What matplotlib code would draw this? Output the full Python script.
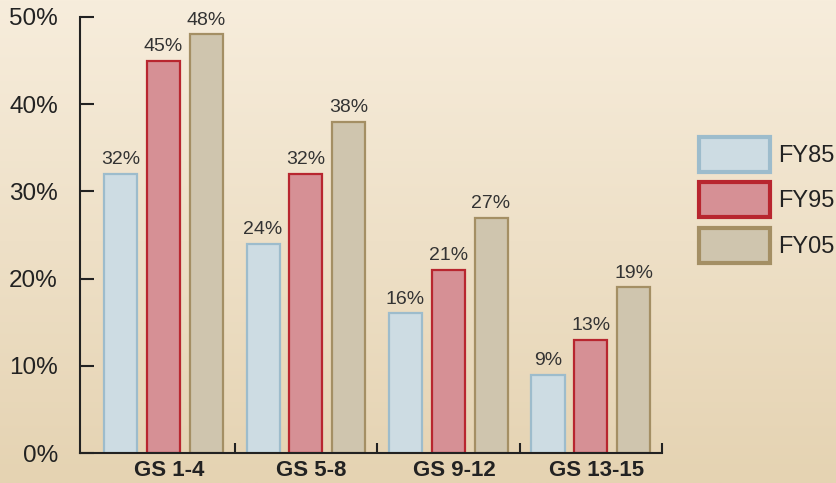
import numpy as np
import matplotlib
matplotlib.use("Agg")
import matplotlib.pyplot as plt
from matplotlib.patches import Patch

plt.rcParams["font.family"] = ["Liberation Sans", "DejaVu Sans"]

grades = ["GS 1-4", "GS 5-8", "GS 9-12", "GS 13-15"]
series = ["FY85", "FY95", "FY05"]
fy85 = [32, 24, 16, 9]
fy95 = [45, 32, 21, 13]
fy05 = [48, 38, 27, 19]
yticks = [0, 10, 20, 30, 40, 50]

fills = ["#cddce3", "#d69095", "#cfc5ae"]
edges = ["#9dbccc", "#b8262f", "#a48f64"]
text_col = "#222222"

fig = plt.figure(figsize=(8.37, 4.83), dpi=100)

# gradient background
bg = fig.add_axes([0, 0, 1, 1], zorder=0)
top = np.array([247, 237, 220]) / 255
bot = np.array([229, 211, 178]) / 255
t = np.linspace(0, 1, 256)[:, None]
grad = top[None, :] * (1 - t) + bot[None, :] * t
bg.imshow(grad[:, None, :], aspect="auto", extent=[0, 1, 0, 1])
bg.axis("off")

ax = fig.add_axes([80 / 837, 1 - 453 / 483, (662 - 80) / 837, (453 - 17) / 483], zorder=1)
ax.patch.set_alpha(0)

x = np.arange(len(grades))
w = 0.232
off = 0.30
for i, vals in enumerate([fy85, fy95, fy05]):
    bars = ax.bar(x + (i - 1) * off, vals, w, color=fills[i], edgecolor=edges[i],
                  linewidth=1.6, label=series[i])
    ax.bar_label(bars, labels=[f"{v}%" for v in vals], padding=4,
                 fontsize=14, color="#333333")

ax.set_ylim(0, 50)
ax.set_xlim(-0.585, 3.5)
ax.set_yticks(yticks)
ax.set_yticklabels([f"{v}%" for v in yticks], fontsize=17.5, color=text_col)
ax.tick_params(axis="y", direction="in", length=10, width=1.5, pad=16, colors=text_col)

ax.set_xticks(x + 0.5, minor=True)
ax.set_xticks(x + 0.04)
ax.set_xticklabels(grades, fontsize=16, fontweight="bold", color=text_col)
ax.tick_params(axis="x", which="major", length=0, pad=5)
ax.tick_params(axis="x", which="minor", direction="in", length=7, width=1.5, colors=text_col)

for s in ["top", "right"]:
    ax.spines[s].set_visible(False)
for s in ["left", "bottom"]:
    ax.spines[s].set_linewidth(1.5)
    ax.spines[s].set_color(text_col)

handles = [Patch(facecolor=fills[i], edgecolor=edges[i], linewidth=3, label=series[i])
           for i in range(3)]
fig.legend(handles=handles, loc="upper left", bbox_to_anchor=(687 / 837, 1 - 125 / 483),
           frameon=False, fontsize=17, handlelength=3.0, handleheight=1.9,
           labelspacing=0.445, handletextpad=0.34, borderpad=0, labelcolor=text_col)

fig.savefig("out.png", dpi=100)
